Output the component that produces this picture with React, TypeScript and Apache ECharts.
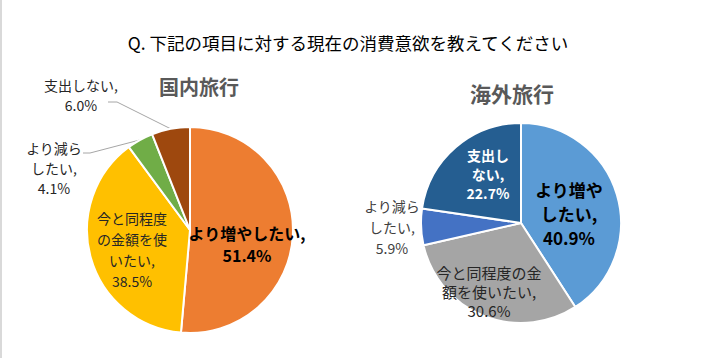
import React, { useEffect, useRef } from "react";
import * as echarts from "echarts";

const TITLE = "Q. 下記の項目に対する現在の消費意欲を教えてください";
const DOMESTIC_TITLE = "国内旅行";
const OVERSEAS_TITLE = "海外旅行";

const domesticNames = ["より増やしたい", "今と同程度の金額を使いたい", "より減らしたい", "支出しない"];
const domesticValues = [51.4, 38.5, 4.1, 6.0];
const domesticLabels = ["より増やしたい,\n51.4%", "今と同程度\nの金額を使\nいたい,\n38.5%", "より減ら\nしたい,\n4.1%", "支出しない,\n6.0%"];
const domesticColors = ["#ED7D31", "#FFC000", "#70AD47", "#9E480E"];

const overseasNames = ["より増やしたい", "今と同程度の金額を使いたい", "より減らしたい", "支出しない"];
const overseasValues = [40.9, 30.6, 5.9, 22.7];
const overseasLabels = ["より増や\nしたい,\n40.9%", "今と同程度の金\n額を使いたい,\n30.6%", "より減ら\nしたい,\n5.9%", "支出し\nない,\n22.7%"];
const overseasColors = ["#5B9BD5", "#A5A5A5", "#4472C4", "#255E91"];

const FONT = "'Noto Sans CJK JP', 'Noto Sans', sans-serif";

// label layout (text block centres) and leader-line elbows
const domesticCenter = [190, 230];
const domesticRadius = 103;
const domesticLabelPos = [[247, 244], [132, 249], [54, 168], [81, 95]];
const domesticElbows: (number[][] | null)[] = [null, null, [[83, 153], [90, 153]], [[108, 102], [117, 102]]];
const domesticStyles = [
  { fontSize: 16, fontWeight: "bold", color: "#000000", lineHeight: 22 },
  { fontSize: 14, fontWeight: "normal", color: "#262626", lineHeight: 21 },
  { fontSize: 14, fontWeight: "normal", color: "#262626", lineHeight: 20 },
  { fontSize: 14, fontWeight: "normal", color: "#262626", lineHeight: 20 },
];

const overseasCenter = [521, 223];
const overseasRadius = 100;
const overseasLabelPos = [[569, 213], [489, 291], [392, 227], [488, 174]];
const overseasStyles = [
  { fontSize: 17, fontWeight: "bold", color: "#000000", lineHeight: 24 },
  { fontSize: 15, fontWeight: "normal", color: "#262626", lineHeight: 19 },
  { fontSize: 14, fontWeight: "normal", color: "#404040", lineHeight: 21 },
  { fontSize: 14, fontWeight: "bold", color: "#FFFFFF", lineHeight: 19 },
];

function edgePoint(values: number[], idx: number, center: number[], r: number) {
  const total = values.reduce((a, b) => a + b, 0);
  let cum = 0;
  for (let i = 0; i < idx; i++) cum += values[i];
  const mid = cum + values[idx] / 2;
  const ang = (Math.PI / 2) - (mid / total) * Math.PI * 2;
  return [center[0] + r * Math.cos(ang), center[1] - r * Math.sin(ang)];
}

function buildSeries(
  names: string[], values: number[], labels: string[], colors: string[],
  center: number[], radius: number, pos: number[][], styles: any[],
  elbows: (number[][] | null)[] | null
) {
  return {
    type: "pie",
    center,
    radius,
    startAngle: 90,
    clockwise: true,
    avoidLabelOverlap: false,
    itemStyle: { borderColor: "#ffffff", borderWidth: 2 },
    emphasis: { disabled: true },
    data: names.map((n, i) => {
      const outside = elbows ? !!elbows[i] : false;
      return {
        name: n,
        value: values[i],
        itemStyle: { color: colors[i] },
        label: {
          show: true,
          position: outside ? "outside" : "inside",
          formatter: labels[i],
          fontFamily: FONT,
          align: "center",
          ...styles[i],
        },
        labelLine: outside
          ? { show: true, length: 10, length2: 0, lineStyle: { color: "#A6A6A6", width: 1 } }
          : { show: false },
      };
    }),
    labelLayout: (params: any) => {
      const i = params.dataIndex;
      const p = pos[i];
      const res: any = { x: p[0], y: p[1], align: "center", verticalAlign: "middle" };
      if (elbows && elbows[i]) {
        const e = edgePoint(values, i, center, radius);
        res.labelLinePoints = [elbows[i]![0], elbows[i]![1], e];
      }
      return res;
    },
  };
}

export default function App() {
  const ref = useRef<HTMLDivElement>(null);
  useEffect(() => {
    if (!ref.current) return;
    const chart = echarts.init(ref.current, undefined, { renderer: "svg" });
    const overseasElbows: (number[][] | null)[] = [null, null, null, null];
    chart.setOption({
      animation: false,
      backgroundColor: "#ffffff",
      title: [
        {
          text: TITLE,
          left: 343,
          top: 37,
          textAlign: "center",
          textVerticalAlign: "middle",
          textStyle: { fontFamily: FONT, fontSize: 17.5, fontWeight: "normal", color: "#000000" },
        },
      ],
      graphic: [
        { type: "rect", shape: { x: 0, y: 0, width: 2, height: 358 }, style: { fill: "#D9D9D9" } },
        {
          type: "text", x: 199, y: 86,
          style: { text: DOMESTIC_TITLE, fontFamily: FONT, fontSize: 20, fontWeight: "bold", fill: "#595959", align: "center", verticalAlign: "middle" },
        },
        {
          type: "text", x: 512, y: 93,
          style: { text: OVERSEAS_TITLE, fontFamily: FONT, fontSize: 21, fontWeight: "bold", fill: "#595959", align: "center", verticalAlign: "middle" },
        },
      ],
      series: [
        buildSeries(domesticNames, domesticValues, domesticLabels, domesticColors, domesticCenter, domesticRadius, domesticLabelPos, domesticStyles, domesticElbows),
        buildSeries(overseasNames, overseasValues, overseasLabels, overseasColors, overseasCenter, overseasRadius, overseasLabelPos, overseasStyles, overseasElbows),
      ],
    });
    return () => chart.dispose();
  }, []);
  return <div ref={ref} style={{ position: "fixed", left: 0, top: 0, width: 708, height: 358 }} />;
}
